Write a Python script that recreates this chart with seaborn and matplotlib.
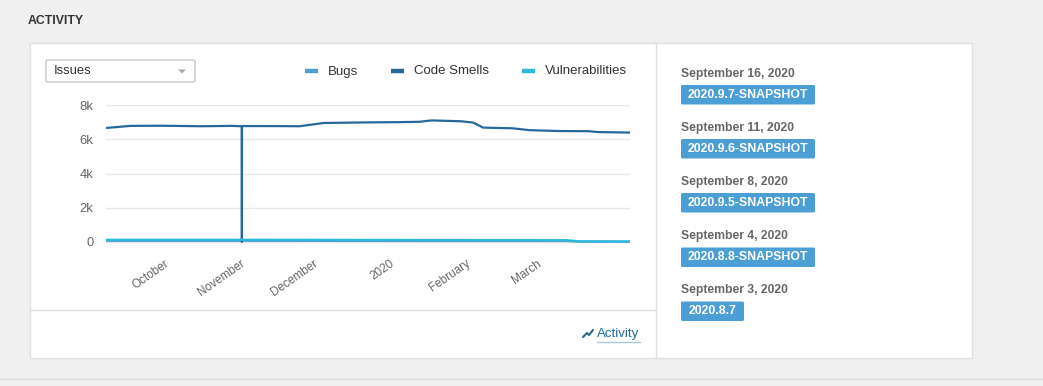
import numpy as np
import pandas as pd
import matplotlib
matplotlib.use("Agg")
import matplotlib.pyplot as plt
import matplotlib.dates as mdates
import matplotlib.transforms as mtransforms
from matplotlib.patches import Rectangle, FancyBboxPatch, Polygon
from matplotlib.ticker import FuncFormatter
import seaborn as sns

# ---- data ----
smell_dates = ["2019-09-06 00:00", "2019-09-16 00:00", "2019-09-28 00:00", "2019-10-15 00:00",
               "2019-10-27 00:00", "2019-10-31 11:00", "2019-10-31 12:00", "2019-10-31 13:00",
               "2019-11-12 00:00", "2019-11-24 00:00", "2019-12-04 00:00", "2019-12-19 00:00",
               "2020-01-04 00:00", "2020-01-12 00:00", "2020-01-17 00:00", "2020-01-29 00:00",
               "2020-02-03 00:00", "2020-02-07 00:00", "2020-02-19 00:00", "2020-02-26 00:00",
               "2020-03-09 00:00", "2020-03-21 00:00", "2020-03-25 00:00", "2020-04-07 00:00"]
smell_values = [6660, 6780, 6790, 6760, 6780, 6760, 0, 6770, 6770,
                6760, 6950, 6980, 7000, 7020, 7100, 7050, 6970, 6680, 6640,
                6530, 6480, 6470, 6420, 6390]

bug_dates = ["2019-09-06", "2019-11-01", "2020-01-15", "2020-03-12", "2020-03-17", "2020-04-07"]
bug_values = [70, 70, 60, 60, 20, 20]

vuln_dates = ["2019-09-06", "2019-11-01", "2020-01-15", "2020-03-12", "2020-03-17", "2020-04-07"]
vuln_values = [130, 130, 120, 110, 40, 30]

series_names = ["Bugs", "Code Smells", "Vulnerabilities"]
series_colors = ["#4b9fd5", "#25699b", "#2bbad8"]

y_ticks = [0, 2000, 4000, 6000, 8000]

event_dates = ["September 16, 2020", "September 11, 2020", "September 8, 2020",
               "September 4, 2020", "September 3, 2020"]
event_versions = ["2020.9.7-SNAPSHOT", "2020.9.6-SNAPSHOT", "2020.9.5-SNAPSHOT",
                  "2020.8.8-SNAPSHOT", "2020.8.7"]

W, H = 1043, 386

sns.set_theme(style="white")
plt.rcParams["font.family"] = ["Liberation Sans", "DejaVu Sans"]

fig = plt.figure(figsize=(W / 100, H / 100), dpi=100)
fig.patch.set_facecolor("#f0f0f0")

# background axes in pixel coordinates for the page chrome
bg = fig.add_axes([0, 0, 1, 1])
bg.set_xlim(0, W)
bg.set_ylim(H, 0)
bg.axis("off")

bg.text(28, 20.5, "ACTIVITY", fontsize=8.8, fontweight="bold", color="#333333", va="center")
bg.add_patch(Rectangle((30, 43), 942, 315, facecolor="white", edgecolor="#e0e0e0", lw=1))
bg.plot([656, 656], [43, 358], color="#e0e0e0", lw=1)
bg.plot([30, 656], [310, 310], color="#e0e0e0", lw=1)
bg.plot([0, W], [379, 379], color="#dcdcdc", lw=1)

# dropdown
bg.add_patch(FancyBboxPatch((46, 60), 149, 22, boxstyle="round,pad=0,rounding_size=2",
                            facecolor="white", edgecolor="#c8c8c8", lw=1))
bg.text(54, 71.5, "Issues", fontsize=9.4, color="#333333", va="center")
bg.add_patch(Polygon([[178, 69.5], [186, 69.5], [182, 73.5]], closed=True,
                     facecolor="#aaaaaa", edgecolor="none"))

# legend
legend_x = [305, 391, 522]
for name, color, lx in zip(series_names, series_colors, legend_x):
    bg.plot([lx, lx + 13], [71, 71], color=color, lw=3.2, solid_capstyle="butt")
    bg.text(lx + 23, 71.5, name, fontsize=9.5, color="#333333", va="center")

# bottom-right link
bg.plot([583, 587, 589, 593], [337, 333, 335, 330], color="#236a97", lw=1.5)
bg.text(597, 333.5, "Activity", fontsize=9.5, color="#236a97", va="center")
bg.plot([597, 640], [341.5, 341.5], color="#a9c7dc", lw=1)

# right column of events
row_y = [73.5, 127.5, 181.5, 236, 290]
for dt, ver, ry in zip(event_dates, event_versions, row_y):
    bg.text(681, ry, dt, fontsize=8.7, fontweight="bold", color="#666666", va="center")
    bw = 134 if "SNAPSHOT" in ver else 63
    bg.add_patch(FancyBboxPatch((681, ry + 11.5), bw, 19.5, boxstyle="round,pad=0,rounding_size=1.5",
                                facecolor="#4b9fd5", edgecolor="none"))
    bg.text(681 + bw / 2, ry + 21.5, ver, fontsize=8.8, fontweight="bold", color="white",
            ha="center", va="center")

# ---- the chart itself ----
x0, x1, ytop, ybot = 106, 630, 105, 245
ax = fig.add_axes([x0 / W, 1 - ybot / H, (x1 - x0) / W, (ybot - ytop) / H])
ax.set_facecolor("none")

frames = [
    pd.DataFrame({"date": pd.to_datetime(bug_dates, format="mixed"), "value": bug_values}),
    pd.DataFrame({"date": pd.to_datetime(smell_dates, format="mixed"), "value": smell_values}),
    pd.DataFrame({"date": pd.to_datetime(vuln_dates, format="mixed"), "value": vuln_values}),
]
for df, color in zip(frames, series_colors):
    sns.lineplot(data=df, x="date", y="value", color=color, lw=1.6, ax=ax, zorder=3)

ymin = -8000 * 3 / 137
ax.set_ylim(ymin, 8000)
ax.set_xlim(pd.Timestamp("2019-09-06"), pd.Timestamp("2020-04-07"))
ax.set_yticks(y_ticks)
ax.yaxis.set_major_formatter(FuncFormatter(lambda v, p: "0" if v == 0 else f"{int(v / 1000)}k"))
ax.grid(axis="y", color="#e8e8e8", lw=1)
ax.grid(axis="x", visible=False)
for s in ax.spines.values():
    s.set_visible(False)

ax.xaxis.set_major_locator(mdates.MonthLocator(bymonth=[10, 11, 12, 1, 2, 3]))
ax.xaxis.set_major_formatter(FuncFormatter(
    lambda v, p: mdates.num2date(v).strftime("%Y") if mdates.num2date(v).month == 1
    else mdates.num2date(v).strftime("%B")))
ax.tick_params(axis="y", length=0, pad=9, labelsize=9.4, labelcolor="#666666")
ax.tick_params(axis="x", length=0, pad=9, labelsize=8.5, labelcolor="#666666")
shift = mtransforms.ScaledTranslation(-3 / 100, 0, fig.dpi_scale_trans)
for lbl in ax.get_xticklabels():
    lbl.set_rotation(35)
    lbl.set_ha("right")
    lbl.set_rotation_mode("anchor")
    lbl.set_transform(lbl.get_transform() + shift)
ax.set_xlabel("")
ax.set_ylabel("")

fig.savefig("out.png", dpi=100, facecolor=fig.get_facecolor())
